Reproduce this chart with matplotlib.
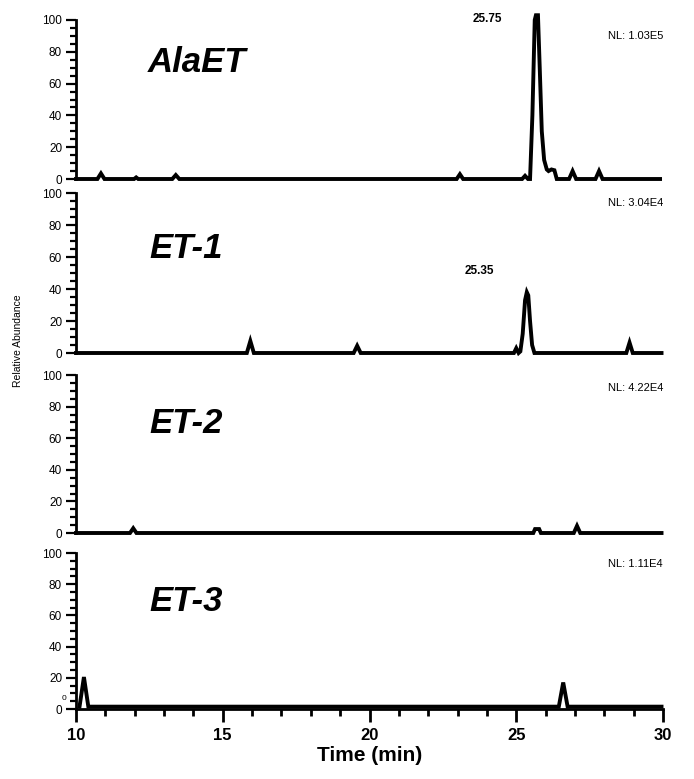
import matplotlib
matplotlib.use("Agg")
import matplotlib.pyplot as plt
from matplotlib.ticker import MultipleLocator

plt.rcParams['font.family'] = ['Liberation Sans', 'DejaVu Sans']

# ---- data (time in min, relative abundance in %) ----
alaet_t = [10.0, 10.73, 10.85, 10.97, 11.98, 12.05, 12.12, 13.28, 13.4, 13.52,
           22.97, 23.08, 23.19, 25.2, 25.3, 25.4, 25.47, 25.55, 25.63, 25.67,
           25.74, 25.8, 25.87, 25.95, 26.04, 26.1, 26.2, 26.3, 26.38, 26.8,
           26.92, 27.04, 27.7, 27.82, 27.94, 29.9]
alaet_v = [0, 0, 3.5, 0, 0, 1, 0, 0, 2.5, 0,
           0, 3, 0, 0, 2, 0, 0, 40, 100, 103,
           103, 70, 30, 12, 6, 5, 6, 5.5, 0, 0,
           5, 0, 0, 5, 0, 0]

et1_t = [10.0, 15.82, 15.94, 16.06, 19.46, 19.58, 19.7, 24.92, 25.0, 25.08,
         25.14, 25.22, 25.3, 25.36, 25.41, 25.47, 25.54, 25.62, 28.75, 28.86,
         28.97, 29.95]
et1_v = [0, 0, 7.5, 0, 0, 4.5, 0, 0, 3, 0,
         1, 12, 33, 38, 36, 20, 5, 0, 0, 6.5,
         0, 0]

et2_t = [10.0, 11.84, 11.95, 12.06, 25.58, 25.64, 25.78, 25.84, 26.96, 27.07, 27.18, 29.95]
et2_v = [0, 0, 3, 0, 0, 2.5, 2.5, 0, 0, 4.5, 0, 0]

et3_t = [10.12, 10.27, 10.42, 26.45, 26.6, 26.75, 29.95]
et3_v = [1.5, 20.5, 1.5, 1.5, 17, 1.5, 1.5]

names = ['AlaET', 'ET-1', 'ET-2', 'ET-3']
nl_labels = ['NL: 1.03E5', 'NL: 3.04E4', 'NL: 4.22E4', 'NL: 1.11E4']
nl_y = [90, 94, 92, 93]
name_y = [73, 65, 69, 69]
peak_labels = [('25.75', 24.0, 100.6), ('25.35', 23.74, 51), None, None]
series = [(alaet_t, alaet_v), (et1_t, et1_v), (et2_t, et2_v), (et3_t, et3_v)]

W, H = 694, 779
fig = plt.figure(figsize=(W / 100, H / 100), dpi=100)

left_px, right_px = 76, 663
panels_px = [(20, 179), (193, 353), (375, 533), (553, 709)]

axes = []
for i, (top, bot) in enumerate(panels_px):
    ax = fig.add_axes([left_px / W, 1 - bot / H, (right_px - left_px) / W, (bot - top) / H])
    axes.append(ax)
    t, v = series[i]
    ax.plot(t, v, color='black', lw=2.8, clip_on=False, solid_joinstyle='miter')
    ax.set_xlim(10, 30)
    ax.set_ylim(0, 100)
    ax.yaxis.set_major_locator(MultipleLocator(20))
    ax.yaxis.set_minor_locator(MultipleLocator(5))
    ax.tick_params(axis='y', which='major', direction='out', length=7, width=1.6,
                   labelsize=8.5, pad=3)
    ax.tick_params(axis='y', which='minor', direction='out', length=4, width=1.6)
    for s in ['top', 'right']:
        ax.spines[s].set_visible(False)
    ax.spines['left'].set_linewidth(2.0)
    if i < 3:
        ax.spines['bottom'].set_visible(False)
        ax.tick_params(axis='x', which='both', bottom=False, labelbottom=False)
    else:
        ax.spines['bottom'].set_linewidth(2.0)
        ax.xaxis.set_major_locator(MultipleLocator(5))
        ax.xaxis.set_minor_locator(MultipleLocator(1))
        ax.tick_params(axis='x', which='major', direction='out', length=9, width=2.0,
                       labelsize=12, pad=5)
        ax.tick_params(axis='x', which='minor', direction='out', length=5, width=2.0)
        for lab in ax.get_xticklabels():
            lab.set_fontweight('bold')
        ax.set_xlabel('Time (min)', fontsize=15, fontweight='bold', labelpad=2)
        ax.text(9.6, 6.5, '0', fontsize=6, ha='center', va='center', clip_on=False)
    ax.text(12.45 if i == 0 else 12.5, name_y[i], names[i], fontsize=25,
            fontweight='bold', fontstyle='italic', ha='left', va='center')
    ax.text(30.0, nl_y[i], nl_labels[i], fontsize=8, ha='right', va='center')
    if peak_labels[i] is not None:
        lab, px, py = peak_labels[i]
        ax.text(px, py, lab, fontsize=8.5, fontweight='bold', ha='center',
                va='center', clip_on=False)

fig.text(18 / W, 1 - 341 / H, 'Relative Abundance', rotation=90, fontsize=7.5,
         ha='center', va='center')

fig.savefig('out.png', dpi=100)
